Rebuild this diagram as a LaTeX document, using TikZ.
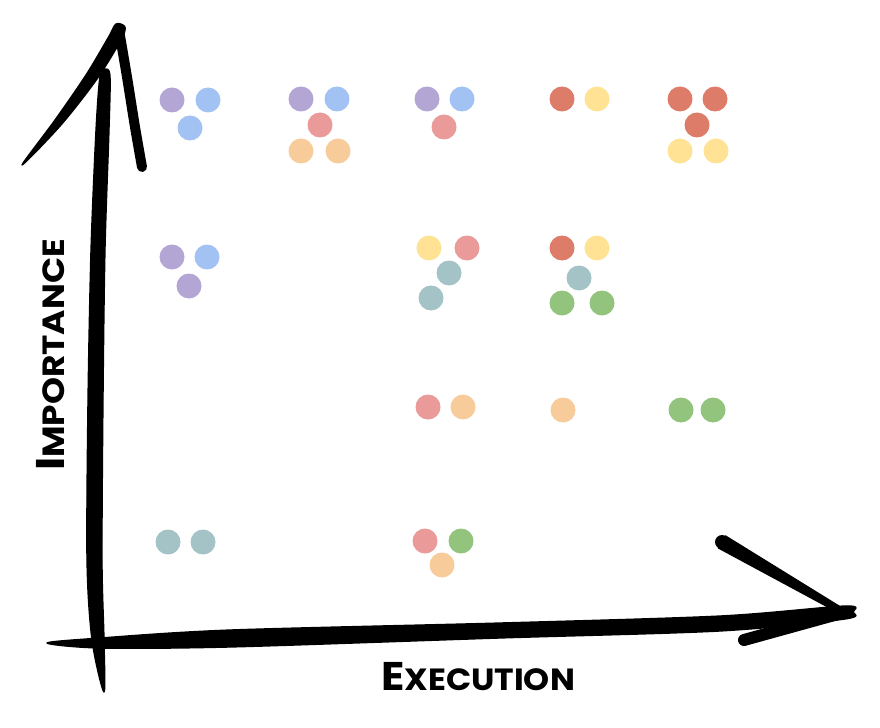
\documentclass[tikz,border=0pt]{standalone}
\usepackage{fontspec}
\usepackage{tikz}
\newfontfamily\handfont{Poppins}
\definecolor{dotpurple}{HTML}{B3A6D5}
\definecolor{dotblue}{HTML}{A2C2F3}
\definecolor{dotpink}{HTML}{EA9A98}
\definecolor{dotorange}{HTML}{F8CB9A}
\definecolor{dotred}{HTML}{DE7C6A}
\definecolor{dotyellow}{HTML}{FFE293}
\definecolor{dotteal}{HTML}{A3C3C7}
\definecolor{dotgreen}{HTML}{92C47D}
\tikzstyle{dot} = [circle, inner sep=0pt, minimum size=18.75pt]
\tikzstyle{purple dot} = [dot, fill=dotpurple]
\tikzstyle{blue dot} = [dot, fill=dotblue]
\tikzstyle{pink dot} = [dot, fill=dotpink]
\tikzstyle{orange dot} = [dot, fill=dotorange]
\tikzstyle{red dot} = [dot, fill=dotred]
\tikzstyle{yellow dot} = [dot, fill=dotyellow]
\tikzstyle{teal dot} = [dot, fill=dotteal]
\tikzstyle{green dot} = [dot, fill=dotgreen]
\tikzstyle{ink} = [fill=black, draw=black, line join=round, line width=1pt]
\tikzstyle{brush} = [draw=black, line cap=round, line join=round]
\tikzstyle{axis label} = [font=\handfont\bfseries, inner sep=0pt]
\newcommand{\bigsmall}[2]{{\fontsize{30}{30}\selectfont #1}{\fontsize{23}{23}\selectfont #2}}

\begin{document}
\begin{tikzpicture}[x=0.75pt, y=-0.75pt]
\useasboundingbox (0,0) rectangle (880,727);

% Top row
\node [purple dot] (a1) at (172,100) {};
\node [blue dot] (a2) at (208,100) {};
\node [blue dot] (a3) at (190,128) {};

\node [purple dot] (b1) at (301,99) {};
\node [blue dot] (b2) at (337,99) {};
\node [pink dot] (b3) at (320,125) {};
\node [orange dot] (b4) at (301,151) {};
\node [orange dot] (b5) at (338,151) {};

\node [purple dot] (c1) at (427,99) {};
\node [blue dot] (c2) at (462,99) {};
\node [pink dot] (c3) at (444,127) {};

\node [red dot] (d1) at (562,99) {};
\node [yellow dot] (d2) at (597,99) {};

\node [red dot] (e1) at (680,99) {};
\node [red dot] (e2) at (715,99) {};
\node [red dot] (e3) at (697,125) {};
\node [yellow dot] (e4) at (680,151) {};
\node [yellow dot] (e5) at (716,151) {};

% Second row
\node [purple dot] (f1) at (172,257) {};
\node [blue dot] (f2) at (207,257) {};
\node [purple dot] (f3) at (189,286) {};

\node [yellow dot] (g1) at (429,248) {};
\node [pink dot] (g2) at (467,248) {};
\node [teal dot] (g3) at (449,273) {};
\node [teal dot] (g4) at (431,298) {};

\node [red dot] (h1) at (562,248) {};
\node [yellow dot] (h2) at (597,248) {};
\node [teal dot] (h3) at (579,278) {};
\node [green dot] (h4) at (562,303) {};
\node [green dot] (h5) at (602,303) {};

% Third row
\node [pink dot] (i1) at (428,407) {};
\node [orange dot] (i2) at (463,407) {};

\node [orange dot] (j1) at (563,410) {};

\node [green dot] (k1) at (681,410) {};
\node [green dot] (k2) at (713,410) {};

% Bottom row
\node [teal dot] (l1) at (168,542) {};
\node [teal dot] (l2) at (203,542) {};

\node [pink dot] (m1) at (425,541) {};
\node [green dot] (m2) at (461,541) {};
\node [orange dot] (m3) at (442,565) {};

% Axes
\path [ink] plot [smooth cycle] coordinates {(104,692) (92,640) (87,560)
  (88,400) (91,250) (96,130) (100,76) (105,69) (110,76) (109,130)
  (105,250) (103,400) (102,560) (104,640)};
\path [ink] plot [smooth cycle] coordinates {(22,165) (55,120) (86,75)
  (108,38) (116,24) (125,27) (121,40) (97,79) (61,125)};
\draw [brush, line width=7.5pt] plot [smooth] coordinates {(119,30)
  (127,77) (135,127) (142,167)};

\path [ink] plot [smooth cycle] coordinates {(47,643) (100,638) (230,630)
  (500,623) (720,616) (845,606) (853,612) (845,619) (720,631) (500,638)
  (230,647) (100,648)};
\draw [brush, line width=9pt] (744,640) -- (838,614);
\fill (722,542) circle (7);
\path [ink] (718.5,548) -- (725.5,536) -- (839.5,606.4) -- (836.5,611.6) -- cycle;

% Labels
\node [axis label, rotate=90, xscale=1.12] (imp) at (51,355) {\bigsmall{I}{MPORTANCE}};
\node [axis label, xscale=1.08] (exe) at (478,677) {\bigsmall{E}{XECUTION}};

\end{tikzpicture}
\end{document}
